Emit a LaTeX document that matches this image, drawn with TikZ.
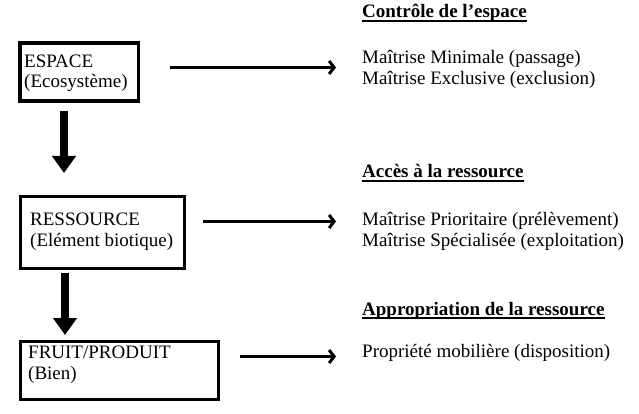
\documentclass[tikz,border=0pt]{standalone}
\usepackage{fontspec}
\setmainfont{Liberation Serif}
\usetikzlibrary{arrows.meta,calc}
\begin{document}
\begin{tikzpicture}[x=1pt,y=-1pt,
  every node/.style={font=\fontsize{19}{21}\selectfont, inner sep=0pt},
  box/.style={draw, line width=3.5pt, anchor=north west},
  txt/.style={anchor=base west},
  hdr/.style={anchor=base west, font=\fontsize{19}{21}\selectfont\bfseries},
  harrow/.style={line width=3pt, -{Straight Barb[length=5pt,width=13pt]}},
  varrow/.style={line width=8pt, -{Triangle[length=17pt,width=23pt]}}
]
\useasboundingbox (0,0) rectangle (639,414);
% boxes
\node[box, minimum width=118.5pt, minimum height=58pt] (b1) at (18,41.5) {};
\node[box, minimum width=164pt, minimum height=72pt] (b2) at (18.5,194.5) {};
\node[box, minimum width=198pt, minimum height=58pt] (b3) at (18.5,339.5) {};
% box texts
\node[txt] (b1a) at (24,68) {ESPACE};
\node[txt] (b1b) at (24,88) {(Ecosystème)};
\node[txt] (b2a) at (30,225) {RESSOURCE};
\node[txt] (b2b) at (30,246) {(Elément biotique)};
\node[txt] (b3a) at (28,358) {FRUIT/PRODUIT};
\node[txt] (b3b) at (28,379) {(Bien)};
% headers
\node[hdr] (h1) at (362,18) {Contrôle de l'espace};
\node[hdr] (h2) at (362,178) {Accès à la ressource};
\node[hdr] (h3) at (362,315) {Appropriation de la ressource};
\foreach \h in {h1,h2,h3}{
  \draw[line width=1.6pt] ($(\h.base west)+(0,3)$) -- ($(\h.base east)+(0,3)$);
}
% right texts
\node[txt] (t1) at (362,64) {Maîtrise Minimale (passage)};
\node[txt] (t2) at (362,85) {Maîtrise Exclusive (exclusion)};
\node[txt] (t3) at (362,225) {Maîtrise Prioritaire (prélèvement)};
\node[txt] (t4) at (362,246) {Maîtrise Spécialisée (exploitation)};
\node[txt] (t5) at (362,357) {Propriété mobilière (disposition)};
% arrow coordinates
\coordinate (a1s) at (170,67.5);
\coordinate (a1e) at (336,67.5);
\coordinate (a2s) at (203,221.5);
\coordinate (a2e) at (336,221.5);
\coordinate (a3s) at (240,356.5);
\coordinate (a3e) at (336,356.5);
\coordinate (d1s) at (64,111);
\coordinate (d1e) at (64,173);
\coordinate (d2s) at (65,273);
\coordinate (d2e) at (65,335);
\draw[harrow] (a1s) -- (a1e);
\draw[harrow] (a2s) -- (a2e);
\draw[harrow] (a3s) -- (a3e);
\draw[varrow] (d1s) -- (d1e);
\draw[varrow] (d2s) -- (d2e);
\end{tikzpicture}
\end{document}
